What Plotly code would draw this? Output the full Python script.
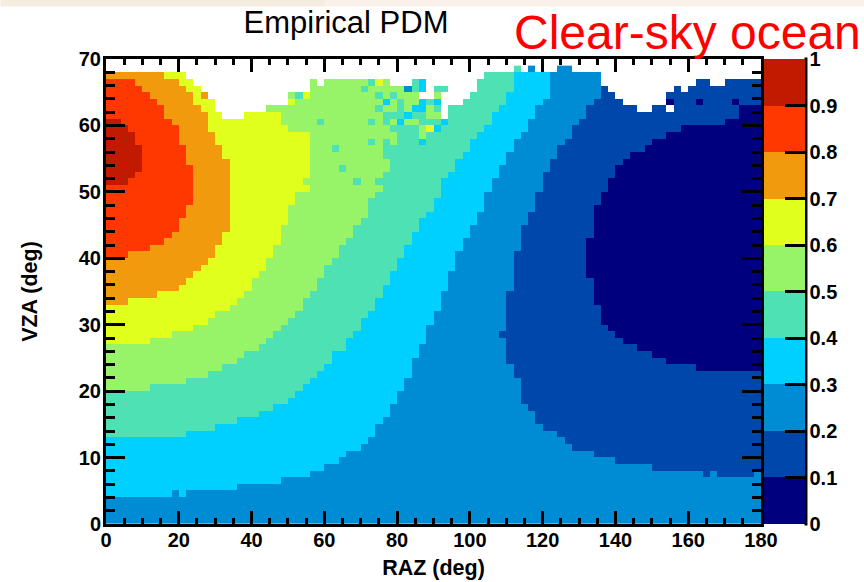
import plotly.graph_objects as go

# Bin layout of the histogram: 90 RAZ bins of 2 deg, 69 populated VZA bins of 1 deg
raz_bin_width = 2
vza_bin_width = 1
n_raz = 90
n_vza = 69

# For each VZA row, the RAZ bin at which each 0.1-wide PDM band ends, as (bin, repeat) runs
band_09_end = [(0, 51), (3, 1), (4, 1), (5, 4), (4, 2), (3, 1), (2, 1), (0, 8)]
band_08_end = [(0, 40), (3, 1), (6, 1), (8, 1), (9, 1), (10, 2), (11, 2), (12, 6), (11, 3), (10, 3), (9, 1), (8, 2),
               (7, 1), (6, 1), (5, 1), (4, 1), (0, 2)]
band_07_end = [(0, 33), (3, 1), (7, 1), (10, 1), (11, 1), (12, 1), (13, 1), (14, 1), (15, 2), (16, 2), (17, 11), (16, 2),
               (15, 2), (14, 3), (13, 1), (12, 2), (11, 1), (10, 1), (8, 1), (0, 1)]
band_06_end = [(0, 27), (6, 1), (9, 1), (12, 1), (14, 1), (15, 1), (17, 1), (18, 1), (19, 1), (20, 2), (21, 1), (22, 2),
               (23, 2), (24, 3), (25, 3), (26, 2), (28, 1), (27, 1), (28, 7), (25, 1), (24, 2), (22, 1), (15, 2), (13, 1),
               (12, 1), (11, 1), (0, 1)]
band_05_end = [(0, 20), (6, 1), (11, 1), (14, 1), (16, 1), (18, 1), (19, 1), (21, 1), (22, 1), (23, 1), (24, 1), (25, 1),
               (26, 1), (27, 2), (28, 1), (29, 2), (30, 2), (31, 1), (32, 2), (33, 1), (34, 2), (35, 1), (36, 3), (37, 1),
               (38, 1), (37, 1), (38, 1), (39, 2), (38, 2), (40, 2), (39, 1), (43, 1), (38, 1), (45, 1), (46, 1), (43, 1),
               (44, 1), (46, 1), (11, 1), (0, 1)]
band_04_end = [(0, 13), (11, 1), (15, 1), (18, 1), (21, 1), (23, 1), (25, 1), (26, 1), (27, 1), (28, 1), (29, 1), (30, 1),
               (31, 2), (33, 2), (34, 1), (35, 2), (36, 1), (37, 2), (38, 2), (39, 2), (40, 2), (41, 2), (42, 2), (43, 2),
               (44, 1), (45, 2), (46, 3), (47, 1), (48, 2), (49, 1), (50, 2), (51, 1), (52, 1), (53, 2), (54, 1), (55, 2),
               (56, 3), (57, 1)]
band_03_end = [(0, 4), (9, 1), (18, 1), (24, 1), (28, 1), (30, 1), (32, 1), (33, 1), (35, 1), (36, 1), (37, 2), (38, 1),
               (39, 2), (40, 2), (41, 2), (42, 3), (43, 2), (44, 3), (45, 2), (46, 3), (47, 3), (48, 3), (49, 2), (50, 2),
               (51, 2), (52, 3), (53, 2), (54, 2), (55, 2), (56, 2), (57, 1), (58, 2), (59, 2), (60, 1), (61, 4), (58, 1)]
band_02_end = [(90, 7), (82, 1), (75, 1), (70, 1), (67, 1), (64, 1), (63, 1), (62, 1), (60, 1), (59, 2), (58, 1), (57, 4),
               (56, 2), (55, 11), (56, 6), (57, 4), (58, 2), (59, 3), (60, 3), (61, 2), (62, 2), (63, 1), (64, 2), (65, 1),
               (66, 2), (67, 1), (68, 4), (64, 1)]
band_01_end = [(90, 23), (81, 1), (77, 1), (75, 1), (73, 1), (71, 1), (70, 1), (69, 1), (68, 3), (67, 4), (66, 6), (67, 5),
               (68, 2), (69, 2), (70, 2), (71, 1), (72, 1), (74, 1), (75, 1), (77, 1), (79, 1), (85, 1), (87, 2), (90, 6)]

# Number of populated VZA rows in each RAZ column
column_top = [68] * 11 + [67, 66, 65, 64, 62, 61, 61, 61, 62, 62, 62, 63, 63, 63, 65, 65, 65, 67, 66] + [67] * 9 + \
             [66, 66, 66, 67, 67, 64, 66, 66, 63, 63, 64, 65, 67, 68, 68, 68, 68, 69, 68, 69, 68, 68, 68, 69, 69,
              68, 68, 68, 68, 66, 65, 64, 63, 63, 62, 62, 63, 63, 65, 66, 65, 66, 67, 67, 66, 66, 67, 67, 67, 67, 67]

# Isolated bins that differ from their neighbours
odd_raz = [10, 83, 89, 54, 29, 31, 32, 34, 36, 38, 43, 43, 43, 44, 45, 36, 38, 40, 46, 41, 44, 45, 37, 40, 42, 43, 25,
           38, 40, 43, 44, 45, 13, 26, 27, 37, 39, 45, 35, 41, 42, 43, 36, 37, 42, 43, 77, 81, 86]
odd_vza = [4, 7, 7, 28, 60, 56, 53, 51, 57, 57, 57, 58, 59, 59, 59, 60, 60, 60, 60, 61, 61, 61, 62, 62, 62, 62, 63,
           63, 63, 63, 63, 63, 64, 64, 64, 64, 64, 64, 65, 65, 65, 65, 66, 66, 66, 66, 63, 63, 63]
odd_pdm = [.35, .25, .25, .15, .45, .45, .45, .45, .45, .45, .35, .55, .55, .65, .35, .45, .45, .35, .35, .35, .55, .55,
           .45, .45, .35, .35, .65, .35, .45, .35, .45, .35, .75, .45, .65, .45, .45, .55, .45, .25, .45, .35, .45, .65,
           .45, .35, .05, .05, .05]
empty_raz = [77, 43, 46, 46, 46, 46]
empty_vza = [62, 64, 64, 63, 62, 61]

band_colors = ["#00007f", "#0047ab", "#008bd5", "#00d0ff", "#4de1b4",
               "#97f469", "#e1ff1c", "#f19a0e", "#ff3800", "#c21a00"]
pdm_ticks = [0, .1, .2, .3, .4, .5, .6, .7, .8, .9, 1]
raz_ticks = [0, 20, 40, 60, 80, 100, 120, 140, 160, 180]
vza_ticks = [0, 10, 20, 30, 40, 50, 60, 70]


def expand(runs):
    out = []
    for value, repeat in runs:
        out += [value] * repeat
    assert len(out) == n_vza, len(out)
    return out


band_ends = [expand(r) for r in (band_09_end, band_08_end, band_07_end, band_06_end, band_05_end,
                                 band_04_end, band_03_end, band_02_end, band_01_end)]
band_mid = [.95, .85, .75, .65, .55, .45, .35, .25, .15]

assert len(column_top) == n_raz, len(column_top)
grid = []
for row in range(n_vza):
    cells = []
    for col in range(n_raz):
        value = .05
        for end, mid in zip(band_ends, band_mid):
            if col < end[row]:
                value = mid
                break
        cells.append(value if row < column_top[col] else None)
    grid.append(cells)
for c, r, v in zip(odd_raz, odd_vza, odd_pdm):
    grid[r][c] = v
for c, r in zip(empty_raz, empty_vza):
    grid[r][c] = None

colorscale = []
for i, color in enumerate(band_colors):
    colorscale += [[i / 10, color], [(i + 1) / 10, color]]

W, H = 864, 582
L, R, T, B = 105.5, 761.0, 59.0, 524.3
px = lambda x: (x - L) / (R - L)
py = lambda y: (B - y) / (B - T)
FONT = "Liberation Sans"

fig = go.Figure(go.Heatmap(
    z=grid, x0=raz_bin_width / 2, dx=raz_bin_width, y0=vza_bin_width / 2, dy=vza_bin_width,
    zmin=0, zmax=1, colorscale=colorscale, hoverongaps=False,
    colorbar=dict(
        x=px(764.3), xanchor="left", xpad=0, y=0.5, yanchor="middle", ypad=0, len=1, lenmode="fraction",
        thickness=41, thicknessmode="pixels", outlinewidth=0,
        tickmode="array", tickvals=pdm_ticks, ticktext=[f"{t:g}" for t in pdm_ticks],
        ticks="inside", ticklen=20, tickwidth=3, tickcolor="black",
        tickfont=dict(family=FONT, size=20, color="black", weight=700),
    ),
))

axis_common = dict(
    showline=True, linecolor="black", linewidth=3, mirror="allticks", showgrid=False, zeroline=False,
    ticks="inside", tickwidth=3, tickcolor="black", automargin=False,
    tickfont=dict(family=FONT, size=20, color="black", weight=700),
)
fig.update_xaxes(
    range=[0, 180], tickmode="array", tickvals=raz_ticks, ticklen=13, ticklabelstandoff=-4,
    minor=dict(dtick=5, tick0=0, ticks="inside", ticklen=6, tickwidth=3, tickcolor="black", showgrid=False),
    title=dict(text="RAZ (deg)", font=dict(family=FONT, size=21.5, color="black", weight=700), standoff=10),
    **axis_common,
)
fig.update_yaxes(
    range=[0, 70], tickmode="array", tickvals=vza_ticks, ticklen=19, ticklabelstandoff=-2,
    minor=dict(dtick=2, tick0=0, ticks="inside", ticklen=9, tickwidth=3, tickcolor="black", showgrid=False),
    title=dict(text="VZA (deg)", font=dict(family=FONT, size=21.5, color="black", weight=700), standoff=36),
    **axis_common,
)

fig.update_layout(
    width=W, height=H, autosize=False,
    margin=dict(l=L, r=W - R, t=T, b=H - B, pad=0, autoexpand=False),
    paper_bgcolor="white", plot_bgcolor="white",
    title=dict(text="Empirical PDM", font=dict(family=FONT, size=31, color="black"),
               x=346 / W, xanchor="center", y=1 - 22 / H, yanchor="middle"),
    annotations=[dict(text="Clear-sky ocean", xref="paper", yref="paper", x=px(687), y=py(32),
                      xanchor="center", yanchor="middle", showarrow=False,
                      font=dict(family=FONT, size=48, color="#ff0000"))],
    shapes=[
        dict(type="rect", xref="paper", yref="paper", x0=px(0), x1=px(325), y0=py(6.5), y1=py(0),
             fillcolor="#f5eedf", line_width=0, layer="below"),
        dict(type="rect", xref="paper", yref="paper", x0=px(325), x1=px(864), y0=py(6.5), y1=py(0),
             fillcolor="#faf1ea", line_width=0, layer="below"),
        dict(type="line", xref="paper", yref="paper", x0=px(806), x1=px(806), y0=py(B + 1.5), y1=py(T - 1.5),
             line=dict(color="black", width=3)),
    ],
)

fig.write_html("out.html", config=dict(displayModeBar=False), post_script="document.body.style.margin='0';")
